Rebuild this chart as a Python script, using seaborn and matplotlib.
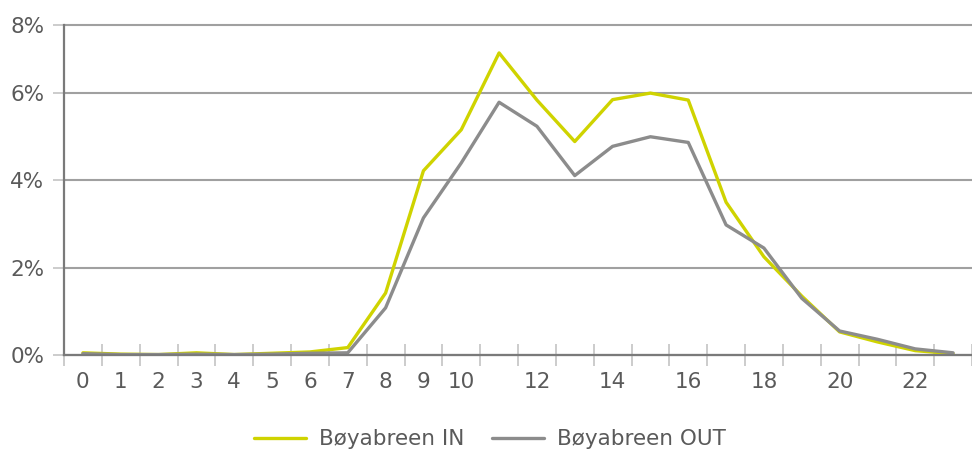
import pandas as pd
import seaborn as sns
import matplotlib.pyplot as plt

# Hourly share of traffic (percent)
hours = list(range(24))
share_in = [0.05, 0.02, 0.01, 0.05, 0.01, 0.04, 0.07, 0.17, 1.42, 4.22, 5.16, 6.92,
            5.84, 4.89, 5.85, 6.0, 5.84, 3.5, 2.25, 1.35, 0.53, 0.3, 0.1, 0.03]
share_out = [0.03, 0.01, 0.01, 0.02, 0.01, 0.02, 0.04, 0.05, 1.08, 3.14, 4.4, 5.79,
             5.24, 4.11, 4.78, 5.0, 4.87, 2.98, 2.45, 1.3, 0.55, 0.36, 0.14, 0.05]
series_names = ['Bøyabreen IN', 'Bøyabreen OUT']
x_labels = [str(h) if (h <= 10 or h % 2 == 0) else '' for h in hours]
y_ticks = [0, 2, 4, 6]
y_labels = ['0%', '2%', '4%', '6%', '8%']

df = pd.DataFrame({
    'hour': hours * 2,
    'share': share_in + share_out,
    'series': [series_names[0]] * 24 + [series_names[1]] * 24,
})

sns.set_style('white')
plt.rcParams['font.family'] = ['DejaVu Sans']

fig = plt.figure(figsize=(9.72, 4.5), dpi=100)
ax = fig.add_axes([64 / 972, 95 / 450, 908 / 972, 330 / 450])

sns.lineplot(data=df, x='hour', y='share', hue='series',
             palette=['#cfd300', '#8c8c8c'], linewidth=2.4, ax=ax, zorder=3)

ymax = 7.56
ax.set_xlim(-0.5, 23.5)
ax.set_ylim(0, ymax)

ax.set_xticks(hours)
ax.set_xticklabels(x_labels)
ax.set_xticks([h - 0.5 for h in hours] + [23.5], minor=True)
ax.tick_params(axis='x', which='both', bottom=True)
ax.tick_params(axis='x', which='major', length=0, pad=12, labelsize=15.5, labelcolor='#5a5a5a')
ax.tick_params(axis='x', which='minor', direction='inout', length=16, width=1.3, color='#c8c8c8')

ax.set_yticks(y_ticks + [ymax])
ax.set_yticklabels(y_labels)
ax.tick_params(axis='y', left=True, length=8, width=1.3, color='#c8c8c8', pad=6,
               labelsize=15.5, labelcolor='#5a5a5a')

ax.grid(axis='y', color='#a0a0a0', linewidth=1.5)
for gl in ax.get_ygridlines():
    gl.set_clip_on(False)
ax.set_axisbelow(True)
for side in ['top', 'right']:
    ax.spines[side].set_visible(False)
for side in ['left', 'bottom']:
    ax.spines[side].set_color('#7a7a7a')
    ax.spines[side].set_linewidth(1.6)
    ax.spines[side].set_zorder(4)

ax.set_xlabel('')
ax.set_ylabel('')

handles, labels = ax.get_legend_handles_labels()
ax.legend(handles, labels, loc='center', bbox_to_anchor=(0.5 - 28 / 908, -0.255),
          ncol=2, frameon=False, fontsize=15.5, handlelength=2.4, columnspacing=1.3,
          handletextpad=0.6, labelcolor='#5a5a5a')

fig.savefig('out.png', dpi=100)
